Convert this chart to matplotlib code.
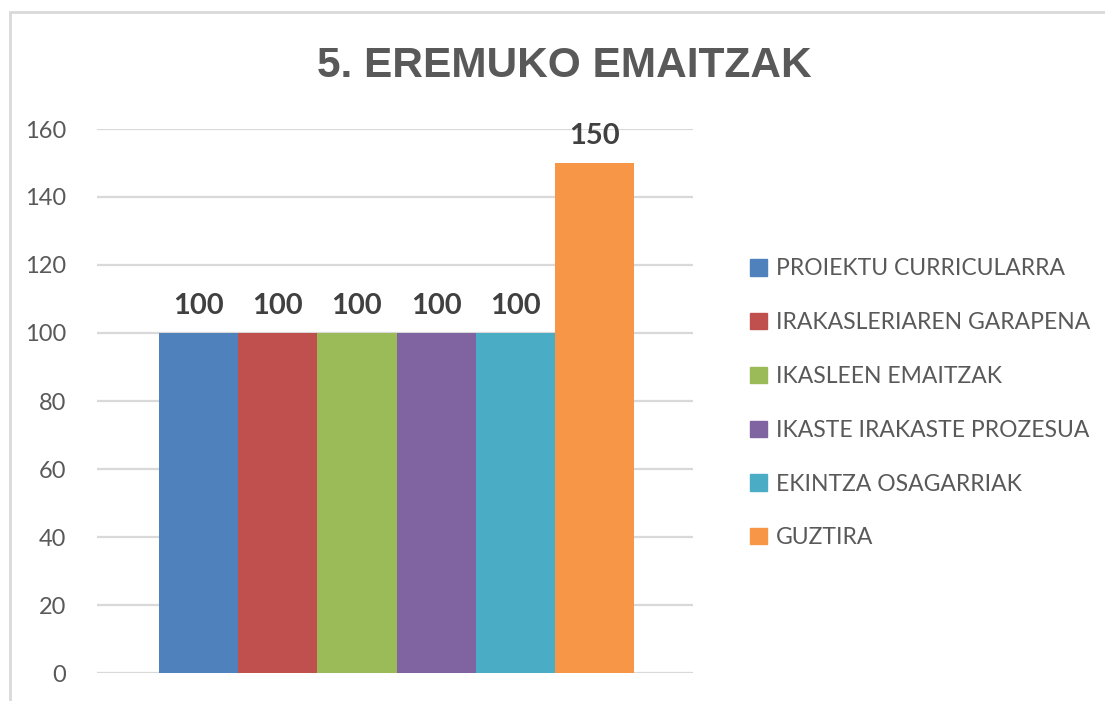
import matplotlib.pyplot as plt
import matplotlib.patches as mpatches
import numpy as np

series = ["PROIEKTU CURRICULARRA", "IRAKASLERIAREN GARAPENA", "IKASLEEN EMAITZAK",
          "IKASTE IRAKASTE PROZESUA", "EKINTZA OSAGARRIAK", "GUZTIRA"]
values = [100, 100, 100, 100, 100, 150]
colors = ["#4F81BD", "#C0504D", "#9BBB59", "#8064A2", "#4BACC6", "#F79646"]
yticks = [0, 20, 40, 60, 80, 100, 120, 140, 160]
title = "5. EREMUKO EMAITZAK"

plt.rcParams['font.family'] = ['Lato', 'DejaVu Sans']

fig = plt.figure(figsize=(11.05, 7.01), dpi=100)
ax = fig.add_axes([97/1105, 28/701, 596/1105, 544/701])

x = np.arange(len(values))
bars = ax.bar(x, values, width=1.0, color=colors, zorder=3)

for xi, v in zip(x, values):
    ax.annotate(str(v), (xi, v), xytext=(0, 10), textcoords="offset points",
                ha="center", va="bottom", fontsize=21, fontweight="bold", color="#404040")

ax.set_ylim(0, 160)
ax.set_xlim(-1.283, 6.245)
ax.set_yticks(yticks)
ax.set_xticks([])
ax.grid(True, axis="y", color="#d9d9d9", linewidth=1.6, zorder=0)
for s in ax.spines.values():
    s.set_visible(False)
ax.tick_params(axis="y", length=0, labelsize=17, labelcolor="#595959", pad=22)

fig.text(564/1105, 1 - 66/701, title, ha="center", va="center", fontsize=30.5,
         fontweight="bold", color="#595959", family=["Liberation Sans", "DejaVu Sans"])

handles = [mpatches.Patch(color=c, label=l) for c, l in zip(colors, series)]
leg = fig.legend(handles=handles, loc="upper left", bbox_to_anchor=(739/1105, 1 - 247/701),
                 frameon=False, fontsize=16.5, labelspacing=1.43, handlelength=0.72,
                 handleheight=0.72, handletextpad=0.4, borderpad=0)
for t in leg.get_texts():
    t.set_color("#595959")

# chart border
fig.add_artist(mpatches.Rectangle((10/1105, -0.1), 1.2, 1 - 12/701 + 0.1,
                                  transform=fig.transFigure, fill=False,
                                  edgecolor="#d9d9d9", linewidth=2))

fig.savefig("out.png", dpi=100)
